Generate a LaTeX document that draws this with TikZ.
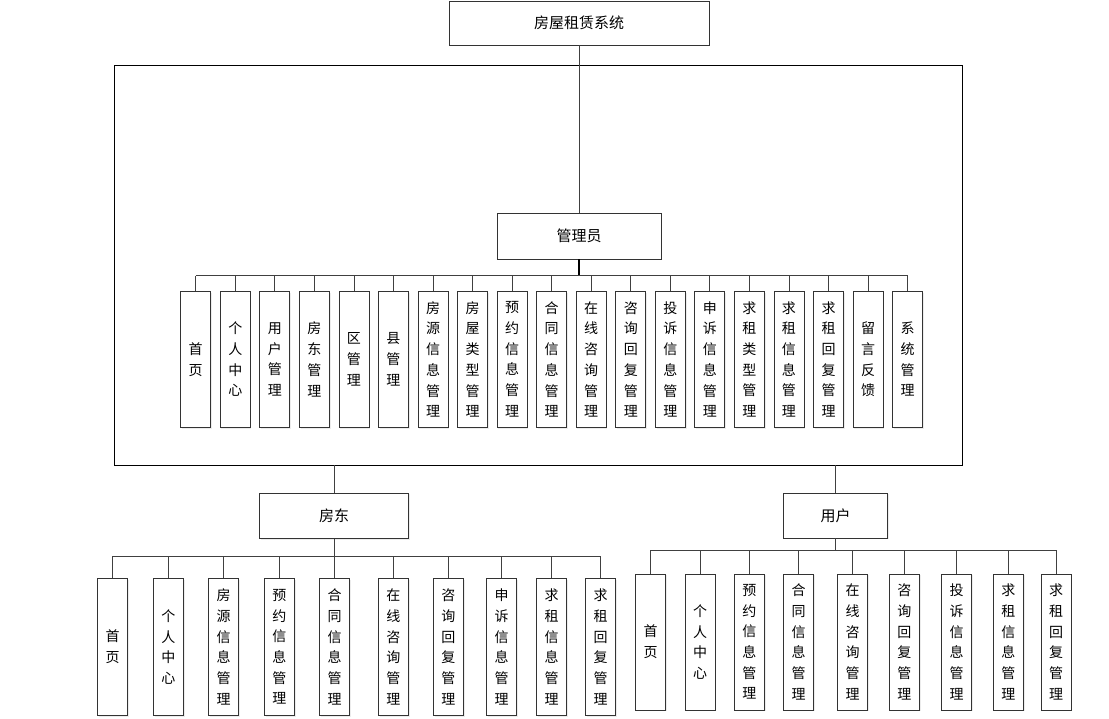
\documentclass[tikz,border=0pt]{standalone}
\usepackage{fontspec}
\newfontfamily\cjk{Noto Sans CJK SC}
\usetikzlibrary{shadows}

\begin{document}
\begin{tikzpicture}[x=1pt, y=-1pt,
    every node/.append style={font=\cjk\fontsize{15}{18}\selectfont},
    box/.style={draw=black!80, line width=0.8pt, fill=white,
      drop shadow={shadow xshift=1.2pt, shadow yshift=-1.2pt, opacity=0.15}},
    item/.style={box, minimum width=30pt, minimum height=136pt, anchor=north,
      align=center, inner sep=0pt, font=\cjk\fontsize{14}{20.7}\selectfont},
    link/.style={draw=black!75, line width=0.8pt}]
    \useasboundingbox (0,0) rectangle (1109,718);
    % outer frame round the admin part
    \node(frame)[draw=black, line width=0.8pt, minimum width=848pt, minimum height=400pt, inner sep=0pt] at (538,265) {};
    \node(SYS)[box, minimum width=260pt, minimum height=44pt] at (579,23) {房屋租赁系统};
    \node(ADMIN)[box, minimum width=164pt, minimum height=46pt] at (579,236) {管理员};
    \node(LORD)[box, minimum width=149pt, minimum height=45.5pt] at (334,516) {房东};
    \node(USER)[box, minimum width=104pt, minimum height=45pt] at (835.5,515.5) {用户};
    \draw[link] (SYS) -- (ADMIN);
    \draw[link] (LORD.north) -- (LORD.north |- frame.south);
    \draw[link] (USER.north) -- (USER.north |- frame.south);
    % admin modules
    \coordinate (abus) at (579,275.5);
    \foreach \x/\t [count=\i] in {195.7/首\\页, 235.25/个\\人\\中\\心, 274.8/用\\户\\管\\理,
        314.35/房\\东\\管\\理, 353.9/区\\管\\理, 393.45/县\\管\\理, 433/房\\源\\信\\息\\管\\理,
        472.55/房\\屋\\类\\型\\管\\理, 512.1/预\\约\\信\\息\\管\\理, 551.65/合\\同\\信\\息\\管\\理,
        591.2/在\\线\\咨\\询\\管\\理, 630.75/咨\\询\\回\\复\\管\\理, 670.3/投\\诉\\信\\息\\管\\理,
        709.85/申\\诉\\信\\息\\管\\理, 749.4/求\\租\\类\\型\\管\\理, 788.95/求\\租\\信\\息\\管\\理,
        828.5/求\\租\\回\\复\\管\\理, 868.05/留\\言\\反\\馈, 907.6/系\\统\\管\\理}
    {
      \node(a\i)[item] at (\x,291) {\t};
      \draw[link] (a\i.north) -- (a\i.north |- abus);
    }
    \draw[link, line width=1.6pt, draw=black] (ADMIN.south) -- (abus);
    \draw[link] (a1.north |- abus) -- (a19.north |- abus);
    % landlord modules
    \coordinate (lbus) at (334,556);
    \foreach \x/\t [count=\i] in {112.5/首\\页, 168.3/个\\人\\中\\心, 223.7/房\\源\\信\\息\\管\\理,
        279.3/预\\约\\信\\息\\管\\理, 334.7/合\\同\\信\\息\\管\\理, 393.3/在\\线\\咨\\询\\管\\理,
        448.3/咨\\询\\回\\复\\管\\理, 501.7/申\\诉\\信\\息\\管\\理, 551.7/求\\租\\信\\息\\管\\理,
        600.7/求\\租\\回\\复\\管\\理}
    {
      \node(l\i)[item, minimum height=137pt] at (\x,578) {\t};
      \draw[link] (l\i.north) -- (l\i.north |- lbus);
    }
    \draw[link] (LORD.south) -- (lbus);
    \draw[link] (l1.north |- lbus) -- (l10.north |- lbus);
    % user modules
    \coordinate (ubus) at (835.5,550.3);
    \foreach \x/\t [count=\i] in {650.7/首\\页, 700/个\\人\\中\\心, 749.3/预\\约\\信\\息\\管\\理,
        798.7/合\\同\\信\\息\\管\\理, 852.5/在\\线\\咨\\询\\管\\理, 904.3/咨\\询\\回\\复\\管\\理,
        956.7/投\\诉\\信\\息\\管\\理, 1008.3/求\\租\\信\\息\\管\\理, 1056/求\\租\\回\\复\\管\\理}
    {
      \node(u\i)[item] at (\x,573.5) {\t};
      \draw[link] (u\i.north) -- (u\i.north |- ubus);
    }
    \draw[link] (USER.south) -- (ubus);
    \draw[link] (u1.north |- ubus) -- (u9.north |- ubus);
\end{tikzpicture}
\end{document}
